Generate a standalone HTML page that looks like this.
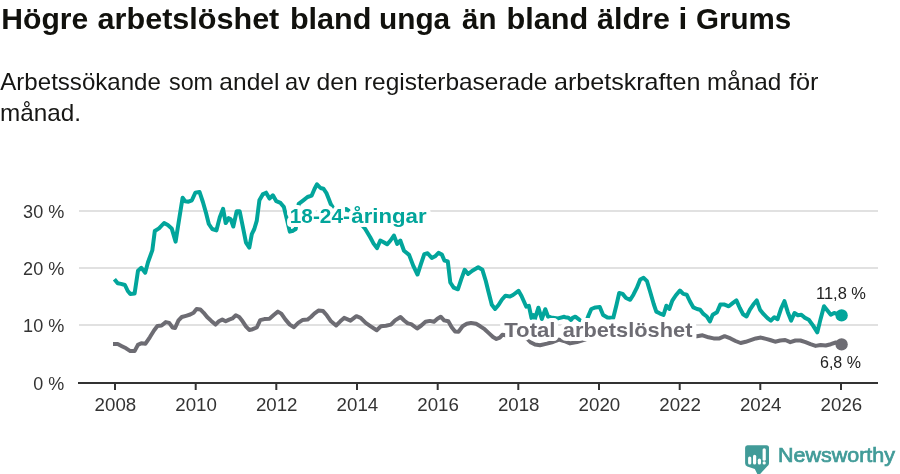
<!DOCTYPE html>
<html><head><meta charset="utf-8"><title>Högre arbetslöshet bland unga än bland äldre i Grums</title><style>
html,body{margin:0;padding:0;background:#fff;}
body{width:900px;height:474px;position:relative;overflow:hidden;}
svg{position:absolute;left:0;top:0;display:block;}
</style></head><body>
<svg width="900" height="474" viewBox="0 0 900 474" font-family="'Liberation Sans', Arial, sans-serif">
<g font-weight="bold" fill="#11110d" stroke="#11110d" stroke-width="0" font-size="29.2"><text x="1.37" y="28.7" textLength="86.87" lengthAdjust="spacingAndGlyphs">Högre</text><text x="97.6" y="28.7" textLength="181.71" lengthAdjust="spacingAndGlyphs">arbetslöshet</text><text x="289.95" y="28.7" textLength="81.56" lengthAdjust="spacingAndGlyphs">bland</text><text x="378.98" y="28.7" textLength="71.24" lengthAdjust="spacingAndGlyphs">unga</text><text x="462.0" y="28.7" textLength="34.44" lengthAdjust="spacingAndGlyphs">än</text><text x="506.55" y="28.7" textLength="81.77" lengthAdjust="spacingAndGlyphs">bland</text><text x="597.0" y="28.7" textLength="72.84" lengthAdjust="spacingAndGlyphs">äldre</text><text x="678.44" y="28.7" textLength="8.76" lengthAdjust="spacingAndGlyphs">i</text><text x="695.99" y="28.7" textLength="95.25" lengthAdjust="spacingAndGlyphs">Grums</text></g>
<g fill="#161614"><g font-size="24"><text x="0.3" y="89.7" textLength="160.55" lengthAdjust="spacingAndGlyphs">Arbetssökande</text><text x="169.0" y="89.7" textLength="43.96" lengthAdjust="spacingAndGlyphs">som</text><text x="219.38" y="89.7" textLength="59.98" lengthAdjust="spacingAndGlyphs">andel</text><text x="285.01" y="89.7" textLength="24.99" lengthAdjust="spacingAndGlyphs">av</text><text x="316.57" y="89.7" textLength="41.22" lengthAdjust="spacingAndGlyphs">den</text><text x="363.98" y="89.7" textLength="183.37" lengthAdjust="spacingAndGlyphs">registerbaserade</text><text x="553.95" y="89.7" textLength="146.45" lengthAdjust="spacingAndGlyphs">arbetskraften</text><text x="706.99" y="89.7" textLength="74.38" lengthAdjust="spacingAndGlyphs">månad</text><text x="789.0" y="89.7" textLength="29.49" lengthAdjust="spacingAndGlyphs">för</text></g><text x="0" y="120.5" font-size="24" textLength="81" lengthAdjust="spacingAndGlyphs">månad.</text></g>
<g stroke="#e1e1e1" stroke-width="2">
<line x1="79" y1="211" x2="878" y2="211"/>
<line x1="79" y1="268" x2="878" y2="268"/>
<line x1="79" y1="325" x2="878" y2="325"/>
</g>
<line x1="78" y1="383" x2="878" y2="383" stroke="#333" stroke-width="2"/>
<g stroke="#333" stroke-width="2"><line x1="115.0" y1="384" x2="115.0" y2="390"/><line x1="195.7" y1="384" x2="195.7" y2="390"/><line x1="276.3" y1="384" x2="276.3" y2="390"/><line x1="357.0" y1="384" x2="357.0" y2="390"/><line x1="437.7" y1="384" x2="437.7" y2="390"/><line x1="518.3" y1="384" x2="518.3" y2="390"/><line x1="599.0" y1="384" x2="599.0" y2="390"/><line x1="679.7" y1="384" x2="679.7" y2="390"/><line x1="760.3" y1="384" x2="760.3" y2="390"/><line x1="841.0" y1="384" x2="841.0" y2="390"/></g>
<polyline points="113,344 117.7,344 121.9,346.2 126.1,348.3 130.3,351.1 134.6,351.1 137.9,344.9 141.3,343.2 145.5,343.7 149.8,337.3 154,330.5 157.4,326 161.6,325.5 165.8,322.1 169.2,322.9 172.6,327.5 175.1,328 178.5,320.4 181.8,317 186,315.8 190.2,314.5 193.6,312.8 196.6,308.9 200.3,309.4 203.7,312.8 207.1,317 211.3,320.9 215.5,324.6 218.9,321.3 222.3,319.6 225.7,321.3 229.1,319.6 232.4,318.4 235.8,315.3 239.2,317 242.6,321.3 245.9,326.3 249.3,330 252.6,329.2 256.8,327.5 260.2,320.1 264.4,319.1 269.5,318.7 273.7,315 277.9,311.6 281.3,313.6 285.5,319.6 289.8,324.6 294,327.2 298.2,322.9 302.4,320.1 307.5,319.6 310.9,317 314.3,313.6 318.4,310.6 323.1,311.1 326.8,315.3 331,321.3 336.1,325.5 340.3,321.3 344.1,317.9 350.5,320.7 356.4,316.2 360.6,317.9 365.7,322.9 370.7,326.3 376.7,330.2 380.9,326.3 385.9,325.8 390.9,324.6 395.1,320.4 400.5,317 404.4,320.7 407.8,323.4 411.2,324.1 417.1,328.5 421.3,325.5 425.5,321.8 429.8,320.9 434,321.8 437.4,318.7 440.7,316.7 444.1,320.4 448.3,321.3 451.7,327.2 455.1,331.4 458.5,331.8 462.6,326.3 466.8,323.8 471,322.9 476.1,323.8 480.3,326.3 484.6,329.2 488.8,333.1 493,337 496.4,339 499.8,337.6 502.3,334.8 510,336 518,336.5 524,337 527.5,339 531,342.5 535,344.6 540,345.3 547,343.6 553,342 559,339.6 564,341 570,343.4 577,342 585,339.6 590,337.5 600,336.5 620,336 640,335.5 660,335.5 680,335 697,336.3 702.6,335.3 708.5,337.3 713.6,338.4 719.5,338.4 724.6,336.2 730.5,338.4 735.5,341 740.6,343 745.7,341.8 750.7,340.1 755.8,338.4 760.9,337.6 766,338.9 770.1,340 775.1,341.7 780.2,340.5 785.2,340 790.3,342.2 795.4,340.5 800.4,340.5 805.5,342.2 810.5,344.2 815.6,345.9 820.6,345 825.7,345.5 830.8,344.2 835.8,342.5 841.7,344.2" fill="none" stroke="#6d6c73" stroke-width="4.0" stroke-linejoin="round" stroke-linecap="butt"/>
<polyline points="114.4,279.2 117.7,283.3 121,283.9 124.9,285 127.8,291 130.3,294 134.6,293.5 138,270.7 141.3,267.8 145.2,272.7 148,262.2 152.3,250.4 154.8,231 159,228.4 164.1,223 167.8,225 171.7,228.4 175.6,241.6 179.2,218.9 182.6,197.8 185.1,201.2 188.5,201.7 191.9,200.3 195.3,192.7 199.5,191.9 202.9,202 206.3,213.9 208.8,224 212.2,229 216.4,230.4 219.8,217.2 223.1,208.8 225.7,223.1 228.7,218.1 230.7,219.3 233.3,226.5 236.7,211.3 239.7,211.3 242.6,225.7 246,242.6 249.3,247.6 251.8,234.1 254.3,229 256.8,220.6 259.4,200.3 262.7,194.4 266.1,192.7 269.5,198.6 272.9,195.3 276.3,201.2 280.5,202.9 283.9,207.1 287.2,220.6 289.8,231.6 293.1,230.7 295.7,229 298.7,203.8 303.3,200.3 307.5,197 311.7,195.6 314.6,188.7 317,184.3 320.5,188 323.4,188.7 326.3,192.8 328.6,198.6 330.9,204.4 334,209 338,211.5 342,211.5 346,209 349,211 353,215 358,220.5 365.1,228.7 370.2,237.2 373.6,243.6 377,248.1 380.3,240.5 383.7,242.2 387.1,244.3 390.5,240.5 393.9,235.5 397.2,243.9 400.3,240.5 404,250.7 409.1,254.9 413.3,265.9 417.5,274.5 420.9,264.2 424.3,254.1 427.6,253.2 431.8,258 435.1,256.3 438.5,252.9 441.9,254.6 444.4,260.5 447.8,261.4 450.3,282.5 453.7,287.6 457.9,289.3 461.3,279.1 464.7,269.8 468.1,274 472.3,270.7 478.2,267.3 482.4,269.8 485.8,281 488.4,291.5 491.8,304.8 495.1,309 498.5,305 502,299.5 505.5,295.7 510,296.6 513,295 518.5,290.8 521.5,296 526.3,306.7 528.9,305.8 531.5,318 533.3,315 534.7,319.5 538.4,307.7 541.8,319 545.3,309.2 548,316.5 551,317.5 558,318.4 564.3,316.8 565.1,317.2 568.5,317.8 571,320 572.7,317.8 575.3,316.7 578.6,319.2 580.3,320.5 583.5,323 586.3,321.5 588.5,315.5 591.3,309 595.5,307.4 599.8,307 603.1,315 607.4,317.5 613.3,317.8 616.7,304 619.2,293 622.6,293.9 626,298 630.2,299.8 633.4,294.7 636.8,287.9 640.2,279.5 643.6,277.8 647,281.2 650.3,292.2 653.7,304 656.3,311.6 659.6,313.3 663.5,315 666.4,305.7 669.3,309 672.3,300.6 675.7,295.5 679.9,290.5 683.3,293.9 686.7,294.7 690,301.5 693.4,307.4 697,309 700.1,309.7 703.4,313.9 706.8,316.5 709.9,321.5 712.7,314.8 717,312.2 720.3,304.6 724.6,304.6 728.8,306.3 733,302.9 736.4,300.4 739.8,308 743.1,314.3 746.5,316.5 749.9,309.7 753.3,304.6 756.7,300.4 760,309.7 763.4,313.9 767.5,318.1 770.9,320.6 774.3,317.2 777.6,319.2 781,308.8 784.4,301.2 787.8,312.2 791.1,320.6 794.5,313 797.9,315.2 801.3,314.7 804.6,317.6 808.8,319.7 813.1,325.6 817.3,332.4 820.6,318.9 824,306.3 827.4,310.5 830.8,314.7 834.1,313 837.5,313.9 841.7,315.2" fill="none" stroke="#02a59b" stroke-width="4.0" stroke-linejoin="round" stroke-linecap="butt"/>
<circle cx="841.6" cy="315.4" r="6.2" fill="#02a59b"/>
<circle cx="841.6" cy="344.4" r="6.2" fill="#6d6c73"/>
<g font-size="18.5" fill="#333" text-anchor="end"><text x="64.3" y="217.8" textLength="41.2" lengthAdjust="spacingAndGlyphs">30 %</text><text x="64.3" y="274.8" textLength="41.2" lengthAdjust="spacingAndGlyphs">20 %</text><text x="64.3" y="331.8" textLength="41.2" lengthAdjust="spacingAndGlyphs">10 %</text><text x="64.3" y="389.8" textLength="31" lengthAdjust="spacingAndGlyphs">0 %</text></g>
<g font-size="18.5" fill="#333"><text x="94.6" y="410.5" textLength="41.6" lengthAdjust="spacingAndGlyphs">2008</text><text x="175.3" y="410.5" textLength="41.6" lengthAdjust="spacingAndGlyphs">2010</text><text x="255.9" y="410.5" textLength="41.6" lengthAdjust="spacingAndGlyphs">2012</text><text x="336.6" y="410.5" textLength="41.6" lengthAdjust="spacingAndGlyphs">2014</text><text x="417.3" y="410.5" textLength="41.6" lengthAdjust="spacingAndGlyphs">2016</text><text x="497.9" y="410.5" textLength="41.6" lengthAdjust="spacingAndGlyphs">2018</text><text x="578.6" y="410.5" textLength="41.6" lengthAdjust="spacingAndGlyphs">2020</text><text x="659.3" y="410.5" textLength="41.6" lengthAdjust="spacingAndGlyphs">2022</text><text x="739.9" y="410.5" textLength="41.6" lengthAdjust="spacingAndGlyphs">2024</text><text x="820.6" y="410.5" textLength="41.6" lengthAdjust="spacingAndGlyphs">2026</text></g>
<g font-weight="bold" font-size="20.8" fill="#fff" stroke="#fff" stroke-width="8" stroke-linejoin="round"><text x="289.8" y="222.8" textLength="60.13" lengthAdjust="spacingAndGlyphs">18-24-</text><text x="351.3" y="222.8" textLength="75.3" lengthAdjust="spacingAndGlyphs">åringar</text><text x="504.2" y="337.3" textLength="51.33" lengthAdjust="spacingAndGlyphs">Total</text><text x="562.8" y="337.3" textLength="129.62" lengthAdjust="spacingAndGlyphs">arbetslöshet</text></g>
<g font-weight="bold" font-size="20.8"><text x="289.8" y="222.8" fill="#02a59b" textLength="60.13" lengthAdjust="spacingAndGlyphs">18-24-</text><text x="351.3" y="222.8" fill="#02a59b" textLength="75.3" lengthAdjust="spacingAndGlyphs">åringar</text><text x="504.2" y="337.3" fill="#6d6c73" textLength="51.33" lengthAdjust="spacingAndGlyphs">Total</text><text x="562.8" y="337.3" fill="#6d6c73" textLength="129.62" lengthAdjust="spacingAndGlyphs">arbetslöshet</text></g>
<g fill="#222"><text x="816" y="299.1" font-size="16.5" textLength="50" lengthAdjust="spacingAndGlyphs">11,8 %</text><text x="820" y="367.9" font-size="16.5" textLength="41" lengthAdjust="spacingAndGlyphs">6,8 %</text></g>
<path d="M747.5,445.3 H766.5 Q769,445.3 769,447.8 V463.3 Q769,465.3 767.3,466.2 L759.6,474.6 L757.6,474.6 L754.8,469 L747.3,466.4 Q745.1,465.6 745.1,463.3 V447.8 Q745.1,445.3 747.5,445.3 Z" fill="#419b98"/>
<g stroke="#fff" stroke-linecap="round" stroke-width="3.2">
<line x1="749.7" y1="458" x2="749.7" y2="463"/>
<line x1="754.6" y1="456.4" x2="754.6" y2="463"/>
<line x1="759.4" y1="460.2" x2="759.4" y2="463"/>
<line x1="764.2" y1="449.8" x2="764.2" y2="459.2"/>
<line x1="764.2" y1="462.9" x2="764.2" y2="463"/>
</g>
<g fill="#419b98" stroke="#419b98" stroke-width="0.7"><text x="778" y="462.1" font-size="19.7" textLength="117" lengthAdjust="spacingAndGlyphs">Newsworthy</text></g>
</svg>
</body></html>
